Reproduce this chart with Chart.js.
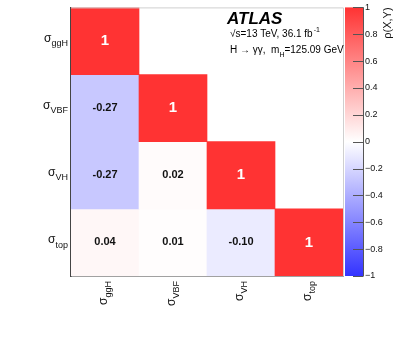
<!DOCTYPE html>
<html>
<head>
<meta charset="utf-8">
<script src="https://cdn.jsdelivr.net/npm/chart.js@4/dist/chart.umd.min.js"></script>
<style>
  body { margin: 0; background: #fff; }
  canvas { display: block; }
</style>
</head>
<body>
<canvas id="mChart" width="399" height="337"></canvas>
<script>
// processes (columns left->right, rows top->bottom)
const procs = ['ggH', 'VBF', 'VH', 'top'];

// correlation rows, one array per row, null = not shown (upper triangle)
const rhoGgH = [1, null, null, null];
const rhoVBF = [-0.27, 1, null, null];
const rhoVH  = [-0.27, 0.02, 1, null];
const rhoTop = [0.04, 0.01, -0.10, 1];

const rows = [rhoGgH, rhoVBF, rhoVH, rhoTop];

const cbTicks = [1, 0.8, 0.6, 0.4, 0.2, 0, -0.2, -0.4, -0.6, -0.8, -1];

const FONT = '"Liberation Sans", Arial, sans-serif';

function rhoColor(v) {
    if (v >= 0) {
        const c = Math.round(255 - v * 204);
        return 'rgb(255,' + c + ',' + c + ')';
    }
    const c = Math.round(255 + v * 204);
    return 'rgb(' + c + ',' + c + ',255)';
}

// row i (0 = top) occupies y in [3-i, 4-i]
const datasets = rows.map(function (vals, i) {
    const lo = procs.length - 1 - i;
    return {
        label: procs[i],
        data: vals.map(function (v) { return v === null ? null : [lo, lo + 1]; }),
        rho: vals,
        backgroundColor: vals.map(function (v) { return v === null ? 'rgba(0,0,0,0)' : rhoColor(v); }),
        borderWidth: 0,
        barPercentage: 1,
        categoryPercentage: 1,
        grouped: false
    };
});

function drawSub(ctx, x, y, main, sub, size, align) {
    ctx.font = size + 'px ' + FONT;
    const w1 = ctx.measureText(main).width;
    ctx.font = (size * 0.75) + 'px ' + FONT;
    const w2 = ctx.measureText(sub).width;
    let x0 = x;
    if (align === 'right') x0 = x - w1 - w2;
    if (align === 'center') x0 = x - (w1 + w2) / 2;
    ctx.textAlign = 'left';
    ctx.textBaseline = 'alphabetic';
    ctx.font = size + 'px ' + FONT;
    ctx.fillText(main, x0, y);
    ctx.font = (size * 0.75) + 'px ' + FONT;
    ctx.fillText(sub, x0 + w1, y + size * 0.35);
}

const decor = {
    id: 'decor',
    afterDatasetsDraw: function (chart) {
        const ctx = chart.ctx;
        const area = chart.chartArea;
        const xs = chart.scales.x;
        const ys = chart.scales.y;
        const cb = chart.scales.cb;
        ctx.save();

        // cell values
        chart.data.datasets.forEach(function (ds, di) {
            const meta = chart.getDatasetMeta(di);
            meta.data.forEach(function (el, j) {
                const v = ds.rho[j];
                if (v === null) return;
                const cx = el.x;
                const cy = (el.y + el.base) / 2;
                ctx.textAlign = 'center';
                ctx.textBaseline = 'middle';
                if (v === 1) {
                    ctx.fillStyle = '#fff';
                    ctx.font = 'bold 15px ' + FONT;
                    ctx.fillText('1', cx, cy);
                } else {
                    ctx.fillStyle = '#111';
                    ctx.font = 'bold 11px ' + FONT;
                    ctx.fillText(v.toFixed(2), cx, cy);
                }
            });
        });

        // frame top / right
        ctx.strokeStyle = '#cfcfcf';
        ctx.lineWidth = 1;
        ctx.beginPath();
        ctx.moveTo(area.left, area.top + 0.5);
        ctx.lineTo(area.right + 0.5, area.top + 0.5);
        ctx.lineTo(area.right + 0.5, area.bottom);
        ctx.stroke();

        // y labels
        ctx.fillStyle = '#111';
        procs.forEach(function (p, i) {
            const y = ys.getPixelForValue(procs.length - 1 - i + 0.5);
            drawSub(ctx, 68, y + 1, 'σ', p, 12, 'right');
        });

        // x labels (rotated)
        procs.forEach(function (p, j) {
            const x = xs.getPixelForValue(j);
            ctx.save();
            ctx.translate(x + 2, 281);
            ctx.rotate(-Math.PI / 2);
            drawSub(ctx, 0, 0, 'σ', p, 12, 'right');
            ctx.restore();
        });

        // colour bar
        const cbL = cb.left + 2;
        const cbR = cb.left + 20;
        const yTop = cb.getPixelForValue(1);
        const yBot = cb.getPixelForValue(-1);
        const grad = ctx.createLinearGradient(0, yTop, 0, yBot);
        grad.addColorStop(0, rhoColor(1));
        grad.addColorStop(0.5, rhoColor(0));
        grad.addColorStop(1, rhoColor(-1));
        ctx.fillStyle = grad;
        ctx.fillRect(cbL, yTop, cbR - cbL, yBot - yTop);
        ctx.strokeStyle = '#555';
        ctx.lineWidth = 1;
        ctx.beginPath();
        ctx.moveTo(cbR + 0.5, yTop);
        ctx.lineTo(cbR + 0.5, yBot);
        cbTicks.forEach(function (t) {
            const ty = Math.round(cb.getPixelForValue(t)) + 0.5;
            ctx.moveTo(cbR - 10, ty);
            ctx.lineTo(cbR + 0.5, ty);
        });
        ctx.stroke();

        // colour bar title
        ctx.save();
        ctx.translate(cb.left + 45, yTop);
        ctx.rotate(-Math.PI / 2);
        ctx.fillStyle = '#111';
        ctx.font = '11px ' + FONT;
        ctx.textAlign = 'right';
        ctx.textBaseline = 'middle';
        ctx.fillText('ρ(X,Y)', 0, 0);
        ctx.restore();

        // ATLAS label
        ctx.fillStyle = '#000';
        ctx.textAlign = 'left';
        ctx.textBaseline = 'alphabetic';
        ctx.font = 'bold italic 17px ' + FONT;
        ctx.fillText('ATLAS', 227, 24);
        ctx.font = '10px ' + FONT;
        ctx.fillText('√s=13 TeV, 36.1 fb', 230, 37);
        let w = ctx.measureText('√s=13 TeV, 36.1 fb').width;
        ctx.font = '7px ' + FONT;
        ctx.fillText('-1', 230 + w + 1, 32);
        ctx.font = '10px ' + FONT;
        ctx.fillText('H → γγ,  m', 230, 53);
        w = ctx.measureText('H → γγ,  m').width;
        ctx.font = '7px ' + FONT;
        ctx.fillText('H', 230 + w, 57);
        ctx.font = '10px ' + FONT;
        ctx.fillText('=125.09 GeV', 230 + w + 5, 53);

        ctx.restore();
    }
};

new Chart(document.getElementById('mChart').getContext('2d'), {
    type: 'bar',
    data: {
        labels: procs,
        datasets: datasets
    },
    options: {
        responsive: false,
        animation: false,
        layout: { padding: { top: 6, left: 0, right: 0, bottom: 0 } },
        plugins: {
            legend: { display: false },
            tooltip: { enabled: false }
        },
        scales: {
            x: {
                type: 'category',
                offset: true,
                grid: { display: false },
                border: { display: true, color: '#444', width: 1.5 },
                ticks: { display: false },
                afterFit: function (s) { s.height = 61; }
            },
            y: {
                type: 'linear',
                min: 0,
                max: 4,
                grid: { display: false },
                border: { display: true, color: '#444', width: 1.5 },
                ticks: { display: false },
                afterFit: function (s) { s.width = 71; }
            },
            cb: {
                type: 'linear',
                position: 'right',
                min: -1,
                max: 1,
                grid: {
                    display: true,
                    drawOnChartArea: false,
                    drawTicks: true,
                    tickLength: 20,
                    color: 'rgba(0,0,0,0)'
                },
                border: { display: false },
                ticks: {
                    stepSize: 0.2,
                    padding: 2,
                    color: '#111',
                    font: { family: FONT, size: 9 },
                    callback: function (v) {
                        const r = Math.round(v * 10) / 10;
                        return r === 0 ? '0' : String(r).replace('-', '−');
                    }
                },
                afterFit: function (s) { s.width = 56; }
            }
        }
    },
    plugins: [decor]
});
</script>
</body>
</html>
